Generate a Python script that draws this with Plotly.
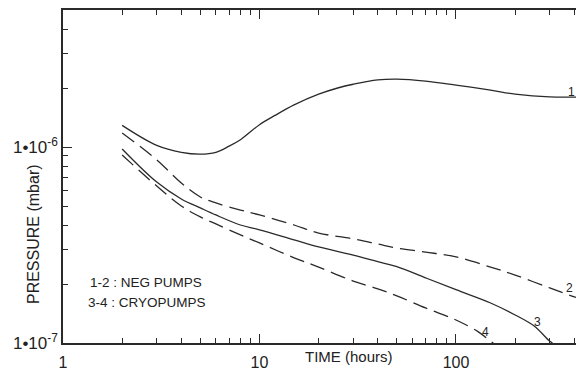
import plotly.graph_objects as go

# ---- data ----
t1 = [2, 3, 4, 5, 6, 7, 8, 10, 12, 15, 20, 25, 30, 40, 50, 70, 100, 150, 200, 300, 450]
p1 = [1.29e-6, 1.02e-6, 0.94e-6, 0.92e-6, 0.94e-6, 1.01e-6, 1.09e-6, 1.30e-6, 1.45e-6,
      1.64e-6, 1.86e-6, 2.00e-6, 2.09e-6, 2.20e-6, 2.22e-6, 2.17e-6, 2.07e-6, 1.95e-6,
      1.86e-6, 1.80e-6, 1.80e-6]

t2 = [2, 3, 4, 5, 6, 8, 10, 15, 20, 30, 40, 50, 70, 100, 150, 200, 300, 400, 450]
p2 = [11.8e-7, 8.6e-7, 6.55e-7, 5.56e-7, 5.18e-7, 4.77e-7, 4.50e-7, 4.00e-7, 3.64e-7,
      3.40e-7, 3.20e-7, 3.05e-7, 2.91e-7, 2.75e-7, 2.44e-7, 2.22e-7, 1.91e-7, 1.72e-7, 1.66e-7]

t3 = [2, 3, 4, 5, 6, 8, 10, 15, 20, 30, 40, 50, 70, 100, 150, 200, 250, 300, 310]
p3 = [9.77e-7, 6.62e-7, 5.43e-7, 4.89e-7, 4.50e-7, 4.00e-7, 3.78e-7, 3.36e-7, 3.09e-7,
      2.81e-7, 2.60e-7, 2.45e-7, 2.15e-7, 1.87e-7, 1.60e-7, 1.39e-7, 1.22e-7, 1.02e-7, 1.00e-7]

t4 = [2, 3, 4, 5, 6, 8, 10, 15, 20, 30, 40, 50, 70, 100, 130, 150, 155]
p4 = [9.10e-7, 6.32e-7, 5.00e-7, 4.40e-7, 4.05e-7, 3.56e-7, 3.24e-7, 2.72e-7, 2.44e-7,
      2.07e-7, 1.89e-7, 1.74e-7, 1.51e-7, 1.31e-7, 1.14e-7, 1.02e-7, 1.00e-7]

x_major = [1, 10, 100]
x_major_text = ["1", "10", "100"]
x_minor = [m * d for d in (1, 10, 100) for m in range(2, 10)]

y_major = [1e-7, 1e-6]
y_major_text = ["1\u202210<sup>-7</sup>", "1\u202210<sup>-6</sup>"]
y_minor = [m * 1e-7 for m in range(2, 10)] + [m * 1e-6 for m in range(2, 6)]

LINE = "#2a2a2a"
FONT = "Liberation Sans, Arial, Helvetica, sans-serif"

fig = go.Figure()
for t, p, dash in [(t1, p1, "solid"), (t2, p2, "15px,7px"), (t3, p3, "solid"), (t4, p4, "15px,7px")]:
    fig.add_trace(go.Scatter(x=t, y=p, mode="lines",
                             line=dict(color=LINE, width=1.3, dash=dash, shape="spline", smoothing=1.0),
                             showlegend=False, hoverinfo="skip"))

# the page body has an 8px default margin, so the figure is offset by (8, 8)
fig.update_layout(
    width=584, height=374,
    margin=dict(l=55, r=8, t=2, b=39),
    paper_bgcolor="white", plot_bgcolor="white",
    font=dict(family=FONT, color="#222", size=14),
    showlegend=False,
)
fig.update_xaxes(
    type="log", range=[0, 2.6515], automargin=False,
    showline=True, linecolor=LINE, linewidth=1.5, mirror="ticks",
    showgrid=False, zeroline=False,
    tickmode="array", tickvals=x_major, ticktext=x_major_text,
    ticks="inside", ticklen=9, tickwidth=1.2, tickcolor=LINE,
    minor=dict(tickmode="array", tickvals=x_minor, ticks="inside", ticklen=5,
               tickwidth=1.2, tickcolor=LINE, showgrid=False),
    tickfont=dict(size=16), ticklabelstandoff=4,
)
fig.update_yaxes(
    type="log", range=[-7, -5.301], automargin=False,
    showline=True, linecolor=LINE, linewidth=1.5, mirror=False,
    showgrid=False, zeroline=False,
    tickmode="array", tickvals=y_major, ticktext=y_major_text,
    ticks="inside", ticklen=9, tickwidth=1.2, tickcolor=LINE,
    minor=dict(tickmode="array", tickvals=y_minor, ticks="inside", ticklen=5,
               tickwidth=1.2, tickcolor=LINE, showgrid=False),
    tickfont=dict(size=17),
)

annotations = [
    dict(text="PRESSURE (mbar)", xref="paper", x=0, xshift=-30, xanchor="center",
         yref="y", y=-6.444, yanchor="middle", textangle=-90, font=dict(size=16)),
    dict(text="TIME (hours)", xref="x", x=1.455, yref="paper", y=0, yshift=-13,
         xanchor="center", yanchor="middle", font=dict(size=15)),
    dict(text="1-2 : NEG PUMPS", xref="x", x=0.127, yref="y", y=-6.689,
         xanchor="left", yanchor="middle", font=dict(size=13.5)),
    dict(text="3-4 : CRYOPUMPS", xref="x", x=0.117, yref="y", y=-6.791,
         xanchor="left", yanchor="middle", font=dict(size=13.5)),
    dict(text="1", xref="x", x=2.590, yref="y", y=-5.719, font=dict(size=12)),
    dict(text="2", xref="x", x=2.580, yref="y", y=-6.719, font=dict(size=12)),
    dict(text="3", xref="x", x=2.417, yref="y", y=-6.893, font=dict(size=12)),
    dict(text="4", xref="x", x=2.148, yref="y", y=-6.944, font=dict(size=12)),
]
for a in annotations:
    a.setdefault("showarrow", False)
    fig.add_annotation(**a)

fig.write_html("out.html")
